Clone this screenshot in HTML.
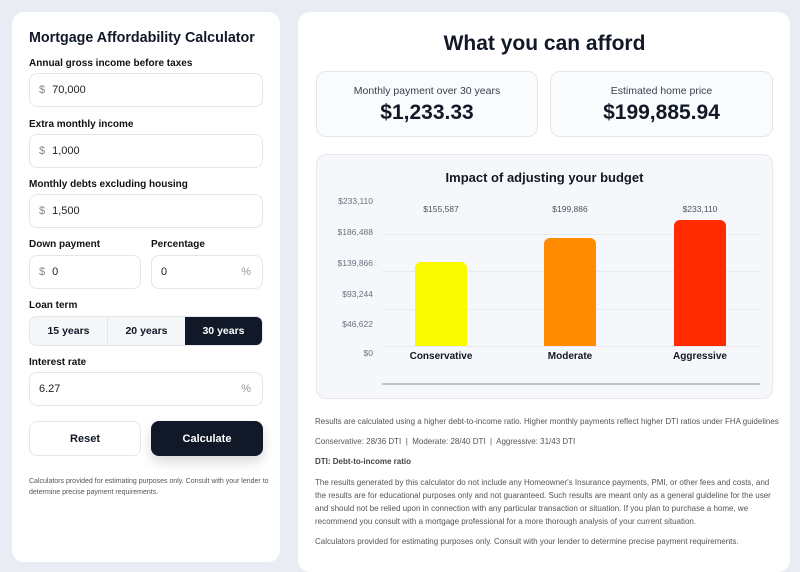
<!DOCTYPE html>
<html><head><style>
*{box-sizing:border-box;margin:0;padding:0}
body{width:800px;height:570px;background:#e9edf3;font-family:"Liberation Sans",sans-serif;position:relative;overflow:hidden;color:#111827}
.a{position:absolute}
.panel{background:#fff;border-radius:12px}
.lbl{font-size:10px;font-weight:bold;color:#111}
.inp{border:1.5px solid #e3e6eb;border-radius:8px;background:#fff;font-size:11px;color:#222;display:flex;align-items:center;padding-left:9px}
.inp .d{color:#888;margin-right:7px}
.pct{position:absolute;right:11px;color:#999}
.yl{font-size:8.5px;color:#6b7280;width:60px;text-align:right}
.grid{height:1px;background:#e8eaef;left:382px;width:378px}
.vl{font-size:8.5px;color:#4b5563;text-align:center;width:100px}
.cl{font-size:10px;font-weight:bold;text-align:center;width:120px}
.t{font-size:8px;color:#555;left:315px}
</style></head><body>
<div class="a panel" style="left:12px;top:12px;width:268px;height:550px"></div>
<div class="a" style="left:29px;top:30px;font-size:14.3px;font-weight:bold">Mortgage Affordability Calculator</div>
<div class="a lbl" style="left:29px;top:58px">Annual gross income before taxes</div>
<div class="a inp" style="left:29px;top:73px;width:234px;height:34px"><span class="d">$</span>70,000</div>
<div class="a lbl" style="left:29px;top:119px">Extra monthly income</div>
<div class="a inp" style="left:29px;top:134px;width:234px;height:34px"><span class="d">$</span>1,000</div>
<div class="a lbl" style="left:29px;top:179px">Monthly debts excluding housing</div>
<div class="a inp" style="left:29px;top:194px;width:234px;height:34px"><span class="d">$</span>1,500</div>
<div class="a lbl" style="left:29px;top:239px">Down payment</div>
<div class="a lbl" style="left:151px;top:239px">Percentage</div>
<div class="a inp" style="left:29px;top:255px;width:112px;height:34px"><span class="d">$</span>0</div>
<div class="a inp" style="left:151px;top:255px;width:112px;height:34px">0<span class="pct">%</span></div>
<div class="a lbl" style="left:29px;top:300px">Loan term</div>
<div class="a" style="left:29px;top:316px;width:234px;height:30px;border:1px solid #e3e6eb;border-radius:7px;background:#f5f6f8;display:flex;overflow:hidden;font-size:10.5px;font-weight:bold">
<div style="flex:1;display:flex;align-items:center;justify-content:center;border-right:1px solid #e3e6eb">15 years</div>
<div style="flex:1;display:flex;align-items:center;justify-content:center">20 years</div>
<div style="flex:1;display:flex;align-items:center;justify-content:center;background:#111827;color:#fff">30 years</div></div>
<div class="a lbl" style="left:29px;top:357px">Interest rate</div>
<div class="a inp" style="left:29px;top:372px;width:234px;height:34px">6.27<span class="pct">%</span></div>
<div class="a" style="left:29px;top:421px;width:112px;height:35px;border:1.5px solid #e3e6eb;border-radius:8px;display:flex;align-items:center;justify-content:center;font-size:11px;font-weight:bold">Reset</div>
<div class="a" style="left:151px;top:421px;width:112px;height:35px;background:#111827;border-radius:8px;color:#fff;display:flex;align-items:center;justify-content:center;font-size:11px;font-weight:bold;box-shadow:0 6px 12px rgba(0,0,0,.15)">Calculate</div>
<div class="a" style="left:29px;top:476px;width:240px;font-size:7px;color:#555;line-height:11px">Calculators provided for estimating purposes only. Consult with your lender to determine precise payment requirements.</div>

<div class="a panel" style="left:298px;top:12px;width:492px;height:560px"></div>
<div class="a" style="left:316px;top:32px;width:457px;text-align:center;font-size:21px;font-weight:bold">What you can afford</div>
<div class="a" style="left:316px;top:71px;width:222px;height:66px;border:1px solid #e3e6eb;border-radius:10px;background:#fafbfc;text-align:center">
<div style="font-size:10.5px;color:#374151;margin-top:13px">Monthly payment over 30 years</div>
<div style="font-size:21px;font-weight:bold;margin-top:4px">$1,233.33</div></div>
<div class="a" style="left:550px;top:71px;width:223px;height:66px;border:1px solid #e3e6eb;border-radius:10px;background:#fafbfc;text-align:center">
<div style="font-size:10.5px;color:#374151;margin-top:13px">Estimated home price</div>
<div style="font-size:21px;font-weight:bold;margin-top:4px">$199,885.94</div></div>
<div class="a" style="left:316px;top:154px;width:457px;height:245px;border:1px solid #e6e8ee;border-radius:10px;background:#f6f7fa"></div>
<div class="a" style="left:316px;top:170px;width:457px;text-align:center;font-size:13px;font-weight:bold">Impact of adjusting your budget</div>
<div class="a yl" style="left:313px;top:196px">$233,110</div>
<div class="a yl" style="left:313px;top:227px">$186,488</div>
<div class="a yl" style="left:313px;top:258px">$139,866</div>
<div class="a yl" style="left:313px;top:289px">$93,244</div>
<div class="a yl" style="left:313px;top:319px">$46,622</div>
<div class="a yl" style="left:313px;top:348px">$0</div>
<div class="a grid" style="top:234px"></div>
<div class="a grid" style="top:271px"></div>
<div class="a grid" style="top:309px"></div>
<div class="a grid" style="top:346px"></div>
<div class="a" style="left:415px;top:262px;width:52px;height:84px;background:#fafa00;border-radius:6px 6px 0 0"></div>
<div class="a" style="left:544px;top:238px;width:52px;height:108px;background:#ff8c00;border-radius:6px 6px 0 0"></div>
<div class="a" style="left:674px;top:220px;width:52px;height:126px;background:#ff2a00;border-radius:6px 6px 0 0"></div>
<div class="a vl" style="left:391px;top:204px">$155,587</div>
<div class="a vl" style="left:520px;top:204px">$199,886</div>
<div class="a vl" style="left:650px;top:204px">$233,110</div>
<div class="a cl" style="left:381px;top:351px">Conservative</div>
<div class="a cl" style="left:510px;top:351px">Moderate</div>
<div class="a cl" style="left:640px;top:351px">Aggressive</div>
<div class="a" style="left:382px;top:383px;width:378px;height:2px;background:#bfc3ca"></div>
<div class="a t" style="top:417px">Results are calculated using a higher debt-to-income ratio. Higher monthly payments reflect higher DTI ratios under FHA guidelines</div>
<div class="a t" style="top:437px">Conservative: 28/36 DTI &nbsp;|&nbsp; Moderate: 28/40 DTI &nbsp;|&nbsp; Aggressive: 31/43 DTI</div>
<div class="a t" style="top:457px;font-weight:bold;color:#444">DTI: Debt-to-income ratio</div>
<div class="a t" style="top:476px;width:460px;line-height:13px">The results generated by this calculator do not include any Homeowner's Insurance payments, PMI, or other fees and costs, and the results are for educational purposes only and not guaranteed. Such results are meant only as a general guideline for the user and should not be relied upon in connection with any particular transaction or situation. If you plan to purchase a home, we recommend you consult with a mortgage professional for a more thorough analysis of your current situation.</div>
<div class="a t" style="top:537px">Calculators provided for estimating purposes only. Consult with your lender to determine precise payment requirements.</div>
</body></html>
